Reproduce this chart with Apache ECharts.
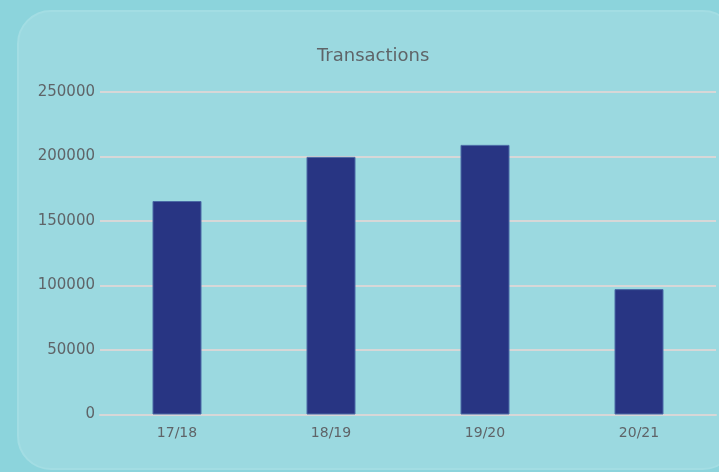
<!DOCTYPE html>
<html>
<head>
<meta charset="utf-8">
<script src="https://cdn.jsdelivr.net/npm/echarts@6/dist/echarts.min.js"></script>
<style>
  html, body { margin:0; padding:0; background:#8cd4dc; width:719px; height:472px; overflow:hidden; }
  .card {
    position:absolute; left:17px; top:10px; width:720px; height:460px;
    background:#9bd9e0; border:2px solid #a3dde3; border-radius:34px; box-sizing:border-box;
  }
  #chart { position:absolute; left:0; top:0; width:719px; height:472px; }
</style>
</head>
<body>
<div class="card"></div>
<div id="chart"></div>
<script>
const categories = ['17/18', '18/19', '19/20', '20/21'];
const transactions = [165500, 199700, 209000, 97200];

const chart = echarts.init(document.getElementById('chart'));

const option = {
  title: {
    text: 'Transactions',
    left: 312,
    top: 42,
    textStyle: {
      fontSize: 18,
      color: '#5f6468',
      fontFamily: 'DejaVu Sans',
      fontWeight: 'normal'
    }
  },
  grid: {
    left: 100,
    right: 3,
    top: 92,
    bottom: 57.5
  },
  xAxis: {
    type: 'category',
    data: categories,
    axisLine: {
      lineStyle: { color: '#d7d7d7', width: 2 }
    },
    axisTick: { show: false },
    axisLabel: {
      color: '#5f6468',
      fontSize: 14,
      fontFamily: 'DejaVu Sans',
      margin: 12
    }
  },
  yAxis: {
    type: 'value',
    min: 0,
    max: 250000,
    interval: 50000,
    axisLine: { show: false },
    axisTick: { show: false },
    axisLabel: {
      color: '#5f6468',
      fontSize: 15,
      fontFamily: 'DejaVu Sans',
      margin: 5,
      formatter: (v) => String(v)
    },
    splitLine: {
      lineStyle: { color: '#d7d7d7', width: 2 }
    }
  },
  series: [
    {
      name: 'Transactions',
      type: 'bar',
      data: transactions,
      barWidth: 49,
      itemStyle: {
        color: '#283583',
        borderColor: '#4a6aa6',
        borderWidth: 1
      }
    }
  ]
};
chart.setOption(option);
</script>
</body>
</html>
